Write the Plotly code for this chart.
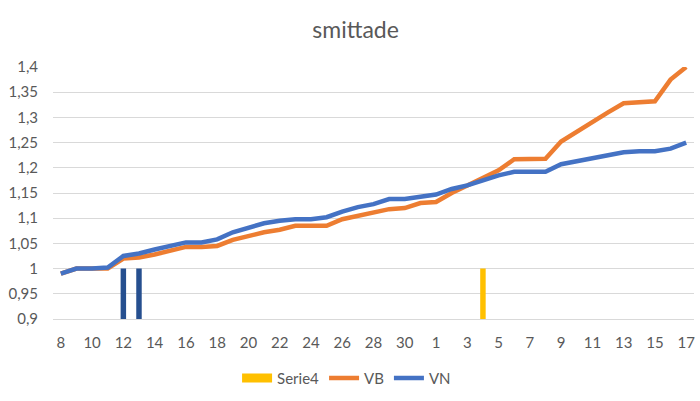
import plotly.graph_objects as go

days = [str(d) for d in range(8, 32)] + [str(d) for d in range(1, 18)]
vn = [0.99, 1.0, 1.0, 1.002, 1.025, 1.03, 1.038, 1.045, 1.052, 1.052, 1.058, 1.072,
      1.082, 1.09, 1.095, 1.098, 1.098, 1.102, 1.113, 1.122, 1.128, 1.138, 1.138, 1.143,
      1.147, 1.158, 1.165, 1.175, 1.185, 1.192, 1.192, 1.192, 1.207, 1.213, 1.22, 1.227,
      1.231, 1.233, 1.233, 1.238, 1.25]
vb = [0.99, 1.0, 1.0, 1.0, 1.02, 1.022, 1.028, 1.035, 1.043, 1.043, 1.045, 1.057,
      1.065, 1.072, 1.077, 1.085, 1.085, 1.085, 1.098, 1.105, 1.113, 1.118, 1.12, 1.13,
      1.132, 1.15, 1.165, 1.18, 1.195, 1.217, 1.217, 1.218, 1.252, 1.272, 1.29, 1.31,
      1.328, 1.33, 1.332, 1.375, 1.4]
serie4 = [None] * 41
serie4[27] = 1.0
marker_dark = [None] * 41
marker_dark[4] = 1.0
marker_dark[5] = 1.0

x = list(range(len(days)))
tickvals = x[::2]
ticktext = days[::2]

fig = go.Figure()
fig.add_trace(go.Bar(x=x, y=marker_dark, width=0.35, marker=dict(color="#264F8F", line=dict(width=0)),
                     showlegend=False, name="Serie"))
fig.add_trace(go.Bar(x=x, y=serie4, width=0.35, marker=dict(color="#FFC000", line=dict(width=0)),
                     name="Serie4", showlegend=False, legendgroup="s4"))
# legend entry for Serie4 (wide rectangle symbol)
fig.add_trace(go.Scatter(x=[None], y=[None], mode="lines", name="Serie4", legendgroup="s4",
                         line=dict(color="#FFC000", width=9)))
fig.add_trace(go.Scatter(x=x, y=vb, mode="lines", name="VB",
                         line=dict(color="#ED7D31", width=4.5)))
fig.add_trace(go.Scatter(x=x, y=vn, mode="lines", name="VN",
                         line=dict(color="#4472C4", width=4.5)))

font_fam = "Lato, 'Open Sans', sans-serif"
fig.update_layout(
    width=700, height=401,
    margin=dict(l=53, r=6, t=67, b=82),
    paper_bgcolor="white", plot_bgcolor="white",
    separators=", ",
    barmode="overlay",
    title=dict(text="smittade", x=0.508, xanchor="center", y=0.925, yanchor="middle",
               font=dict(family=font_fam, size=23, color="#595959")),
    font=dict(family=font_fam, size=15, color="#595959"),
    xaxis=dict(range=[-0.5, 40.5], tickmode="array", tickvals=tickvals, ticktext=ticktext,
               showgrid=False, zeroline=False, showline=True, linecolor="#d9d9d9",
               ticks="", ticklabelstandoff=10, tickfont=dict(size=15, color="#595959")),
    yaxis=dict(range=[0.9, 1.4], dtick=0.05, tick0=0.9, showgrid=True, gridcolor="#d9d9d9",
               zeroline=False, showline=False, ticks="", ticklabelstandoff=14,
               tickfont=dict(size=15, color="#595959")),
    legend=dict(orientation="h", x=0.458, xanchor="center", y=-0.235, yanchor="middle",
                font=dict(size=15, color="#595959"), traceorder="normal"),
)
fig.write_html("out.html")
